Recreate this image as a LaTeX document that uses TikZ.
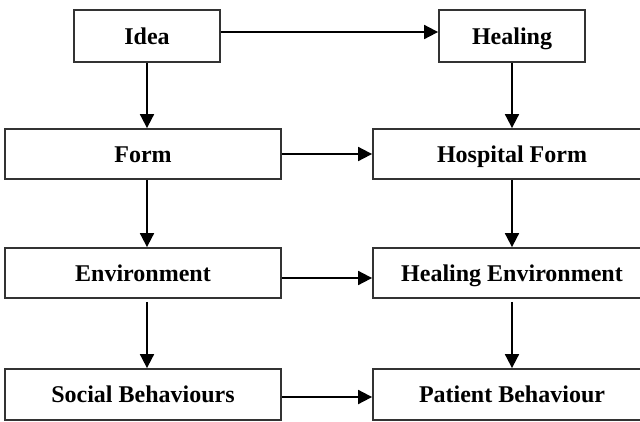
\documentclass[tikz,border=0pt]{standalone}
\usepackage{fontspec}
\setmainfont{Liberation Serif}
\usetikzlibrary{arrows.meta}
\usetikzlibrary{positioning}

\begin{document}
\begin{tikzpicture}[x=1pt, y=-1pt,
    box/.style={draw=black!80, line width=1.8pt, inner sep=0pt,
      text height=16pt, text depth=0pt,
      font=\fontsize{24}{27}\selectfont\bfseries},
    arr/.style={line width=1.8pt, -{Triangle[length=14pt, width=14pt]}}]
  \useasboundingbox (0, 0) rectangle (640, 421);

  % left column
  \node[box, minimum width=146pt, minimum height=52pt] (idea) at (147, 36) {Idea};
  \node[box, minimum width=276pt, minimum height=50pt] (form) at (143, 154) {Form};
  \node[box, minimum width=276pt, minimum height=50pt] (env) at (143, 273) {Environment};
  \node[box, minimum width=276pt, minimum height=51pt] (social) at (143, 394.5) {Social Behaviours};

  % right column (runs off the right edge)
  \node[box, minimum width=146pt, minimum height=52pt] (heal) at (512, 36) {Healing};
  \node[box, minimum width=278pt, minimum height=50pt] (hform) at (512, 154) {Hospital Form};
  \node[box, minimum width=278pt, minimum height=50pt] (henv) at (512, 273) {Healing Environment};
  \node[box, minimum width=278pt, minimum height=51pt] (patient) at (512, 394.5) {Patient Behaviour};

  % down arrows
  \draw[arr] (idea.south) -- (idea.south |- form.north);
  \draw[arr] (idea.south |- form.south) -- (idea.south |- env.north);
  \draw[arr] ([yshift=-3pt]idea.south |- env.south) -- (idea.south |- social.north);
  \draw[arr] (heal.south) -- (heal.south |- hform.north);
  \draw[arr] (heal.south |- hform.south) -- (heal.south |- henv.north);
  \draw[arr] ([yshift=-3pt]heal.south |- henv.south) -- (heal.south |- patient.north);

  % across
  \draw[arr] ([yshift=4pt]idea.east) -- ([yshift=4pt]heal.west);
  \draw[arr] (form.east) -- (hform.west);
  \draw[arr] ([yshift=-5pt]env.east) -- ([yshift=-5pt]henv.west);
  \draw[arr] ([yshift=-2.5pt]social.east) -- ([yshift=-2.5pt]patient.west);
\end{tikzpicture}
\end{document}
